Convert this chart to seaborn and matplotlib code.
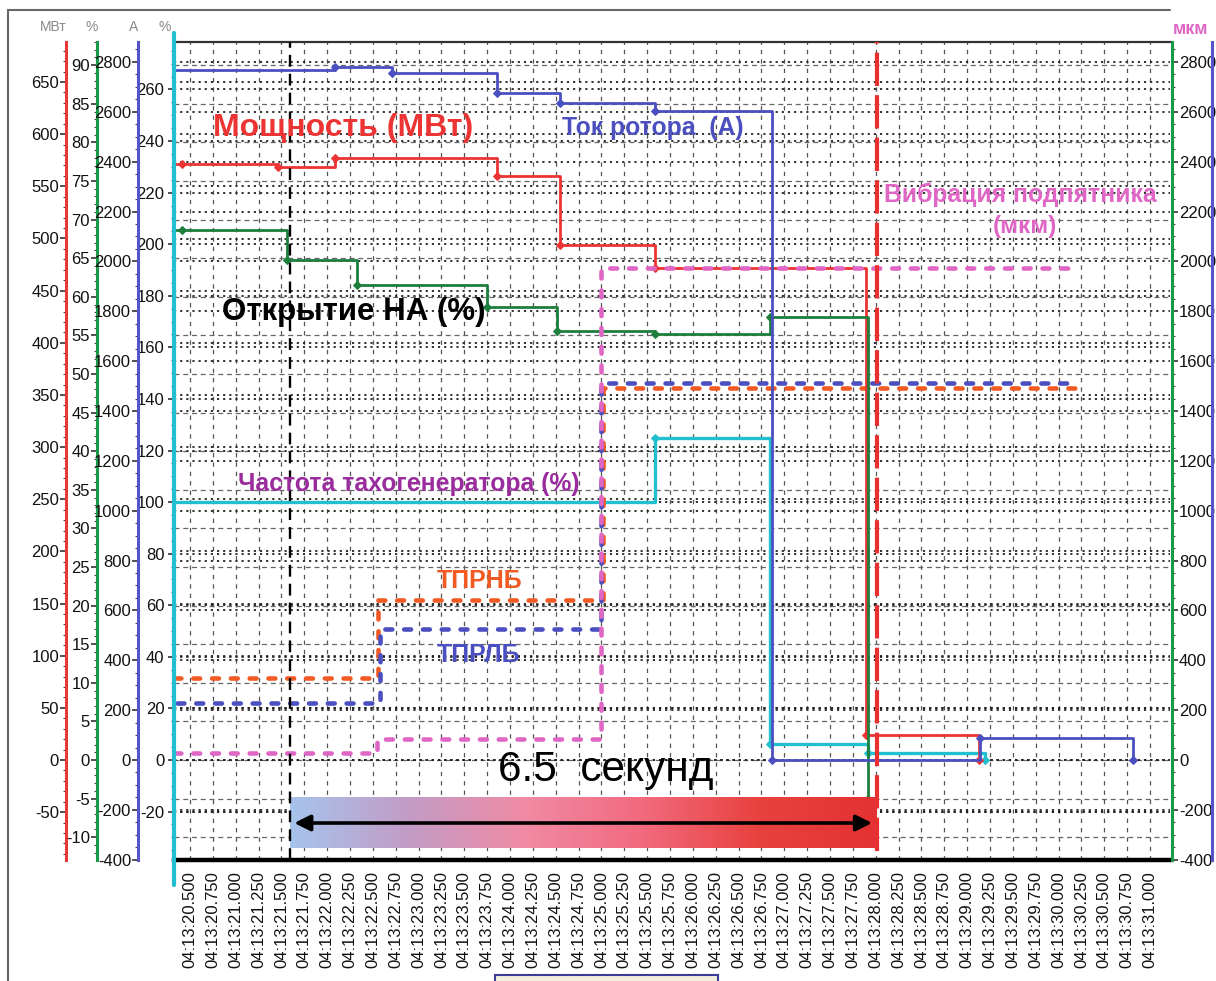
import numpy as np
import matplotlib
matplotlib.use("Agg")
import matplotlib.pyplot as plt
import seaborn as sns
from matplotlib.colors import LinearSegmentedColormap
from matplotlib.lines import Line2D
from matplotlib.patches import Rectangle
from matplotlib.ticker import FixedLocator, MultipleLocator

# ---------------------------------------------------------------- data
# time axis: seconds after 04:13:00
tick_seconds = np.arange(20.5, 31.0001, 0.25)
tick_labels = [f"04:13:{s:06.3f}" for s in tick_seconds]

# rotor current, A
rotor_t = [20.33, 22.09, 22.71, 23.86, 24.55, 25.59, 26.87, 29.14, 30.81]
rotor_a = [2767, 2779, 2755, 2674, 2634, 2602, 0, 88, 0]

# active power, MW
power_t = [20.33, 20.41, 21.46, 22.09, 23.86, 24.55, 25.59, 27.89, 29.13]
power_mw = [571, 571, 569, 577, 560, 494, 472, 24, 0]

# guide vane opening, %
vane_t = [20.33, 20.41, 21.56, 22.33, 23.75, 24.51, 25.59, 26.84, 27.92]
vane_pct = [68.6, 68.6, 64.8, 61.5, 58.7, 55.6, 55.2, 57.4, -5.0]

# tachogenerator frequency, %
tacho_t = [20.33, 25.59, 26.84, 27.92, 29.20]
tacho_pct = [100.0, 125.0, 6.2, 2.7, 0.0]

# thrust bearing temperature channels
tprnb_t = [20.33, 22.56, 25.02, 30.21]
tprnb_v = [31.8, 62.0, 144.2, 144.2]
tprlb_t = [20.36, 22.58, 25.00, 30.21]
tprlb_v = [22.1, 50.8, 146.2, 146.2]

# thrust bearing vibration, um
vib_t = [20.33, 22.545, 25.00, 30.13]
vib_um = [28, 84, 1973, 1973]

# moments of interest
t_start = 21.59
t_trip = 28.01

# axis tick values
mw_ticks = list(range(-50, 651, 50))
na_ticks = list(range(-10, 91, 5))
a_ticks = list(range(-400, 2801, 200))
pct_ticks = list(range(-20, 261, 20))
um_ticks = list(range(-400, 2801, 200))

# ---------------------------------------------------------------- style
sns.set_theme(style="white")
plt.rcParams["font.family"] = ["Liberation Sans", "DejaVu Sans"]
plt.rcParams["axes.unicode_minus"] = False

W, H = 1216, 981
LEFT, RIGHT, TOP, BOTTOM = 174, 1170, 42, 860
ZERO = 760  # pixel row of the zero level shared by every scale

PPU_PCT = 2.579   # px per unit, main percent scale
PPU_MW = 1.043
PPU_NA = 7.72
PPU_A = 0.2493

RED = "#ec3434"
BLUE = "#4b4fc0"
GREEN = "#1d7f3c"
CYAN = "#22bfcf"
ORANGE = "#f25a24"
PINK = "#e066c6"


def rect(x0, y0, x1, y1):
    return [x0 / W, 1 - y1 / H, (x1 - x0) / W, (y1 - y0) / H]


def limits(ppu):
    return ((ZERO - BOTTOM) / ppu, (ZERO - TOP) / ppu)


def fx(x):
    return x / W


def fy(y):
    return 1 - y / H


fig = plt.figure(figsize=(W / 100, H / 100), dpi=100)
fig.patch.set_facecolor("white")
ax = fig.add_axes(rect(LEFT, TOP, RIGHT, BOTTOM))
ax.grid(False)


def side_axis(x_px, spine_color, ppu, ticks, minor, side="left", labels=True):
    a = ax.twinx()
    a.grid(False)
    a.set_ylim(*limits(ppu))
    for s in a.spines.values():
        s.set_visible(False)
    sp = a.spines[side]
    sp.set_visible(True)
    sp.set_position(("axes", (x_px - LEFT) / (RIGHT - LEFT)))
    sp.set_color(spine_color)
    sp.set_linewidth(2.2)
    a.yaxis.set_ticks_position(side)
    a.yaxis.set_label_position(side)
    a.yaxis.set_major_locator(FixedLocator(ticks))
    a.yaxis.set_minor_locator(MultipleLocator(minor))
    a.tick_params(axis="y", which="major", direction="out", length=4, width=1.1,
                  color="#222", labelsize=12, labelcolor="#111", pad=1,
                  labelleft=(side == "left" and labels),
                  labelright=(side == "right" and labels))
    a.tick_params(axis="y", which="minor", direction="out", length=2, width=0.8, color="#444")
    if not labels:
        a.tick_params(axis="y", which="both", length=0)
    a.set_ylabel("")
    return a


ax_mw = side_axis(66, "#e83838", PPU_MW, mw_ticks, 10)
ax_na = side_axis(97, "#1a9a48", PPU_NA, na_ticks, 1)
ax_a = side_axis(138, "#5555c8", PPU_A, a_ticks, 50)
ax_um = side_axis(1172, "#1a9a48", PPU_A, um_ticks, 50, side="right")
ax_far = side_axis(1212, "#5555c8", PPU_A, um_ticks, 50, side="right", labels=False)

# main percent scale
ax.set_ylim(*limits(PPU_PCT))
ax.set_xlim(20.325, 31.219)
ax.yaxis.set_major_locator(FixedLocator(pct_ticks))
ax.yaxis.set_minor_locator(MultipleLocator(5))
ax.tick_params(axis="y", which="major", direction="out", length=4, width=1.1,
               color="#222", labelsize=12, labelcolor="#111", pad=3)
ax.tick_params(axis="y", which="minor", direction="out", length=2, width=0.8, color="#444")
ax.set_xticks(tick_seconds)
ax.set_xticklabels(tick_labels, rotation=90, fontsize=12, color="#111")
ax.tick_params(axis="x", length=0, pad=8)
for name in ("left", "right"):
    ax.spines[name].set_visible(False)
ax.spines["top"].set_color("#333")
ax.spines["top"].set_linewidth(1.6)
ax.spines["bottom"].set_color("black")
ax.spines["bottom"].set_linewidth(3.2)

# ---------------------------------------------------------------- grid
grid_dot = dict(color="#222", lw=1.3, ls=(0, (1.2, 2.2)), zorder=0.5)
for s in tick_seconds:
    ax.axvline(s, color="#555", lw=0.9, ls=(0, (3.5, 4)), zorder=0.4)
for v in pct_ticks:
    ax.axhline(v, **grid_dot)
for v in a_ticks:
    ax.axhline(v * PPU_A / PPU_PCT, **grid_dot)
for v in mw_ticks:
    ax.axhline(v * PPU_MW / PPU_PCT, **grid_dot)
for v in na_ticks:
    ax.axhline(v * PPU_NA / PPU_PCT, color="#666", lw=0.9, ls=(0, (4, 3)), zorder=0.4)


# ---------------------------------------------------------------- series
def step_line(axis, t, v, color, lw=2.0, dashed=False, markers=True):
    kw = dict(x=t, y=v, ax=axis, color=color, linewidth=lw, drawstyle="steps-post",
              sort=False, estimator=None, zorder=4)
    if dashed:
        kw.update(linestyle=(0, (1.5, 2.6)), dash_capstyle="round")
    if markers:
        kw.update(marker="D", markersize=4.5, markeredgecolor=color,
                  markerfacecolor=color, markevery=list(range(1, len(t))))
    sns.lineplot(**kw)
    axis.set_xlabel("")
    axis.set_ylabel("")


step_line(ax, tacho_t, tacho_pct, CYAN, lw=2.4)
step_line(ax, tprnb_t, tprnb_v, ORANGE, lw=3.3, dashed=True, markers=False)
step_line(ax, tprlb_t, tprlb_v, BLUE, lw=3.3, dashed=True, markers=False)
step_line(ax_um, vib_t, vib_um, PINK, lw=3.3, dashed=True, markers=False)
step_line(ax_mw, power_t, power_mw, RED, lw=2.0)
step_line(ax_na, vane_t, vane_pct, GREEN, lw=2.0)
step_line(ax_a, rotor_t, rotor_a, BLUE, lw=2.0)

for a in (ax_mw, ax_na, ax_a, ax_um, ax_far):
    a.set_xlim(20.325, 31.219)

# span bar with arrow, drawn on the top-most axes in main percent units
bar_top = (ZERO - 798) / PPU_PCT
bar_bot = (ZERO - 848) / PPU_PCT
span_cmap = LinearSegmentedColormap.from_list(
    "span", ["#a6c4ec", "#c29cc6", "#f08aa4", "#f26a7e", "#e8423e", "#e43232"])
ax_far.set_ylim(*limits(PPU_PCT))
ax_far.imshow(np.linspace(0, 1, 256).reshape(1, -1), extent=[t_start, t_trip, bar_bot, bar_top],
              aspect="auto", cmap=span_cmap, zorder=5)
ax_far.annotate("", xy=(t_trip - 0.05, (bar_top + bar_bot) / 2),
                xytext=(t_start + 0.05, (bar_top + bar_bot) / 2),
                arrowprops=dict(arrowstyle="<|-|>", color="black", lw=2.6,
                                mutation_scale=24, shrinkA=0, shrinkB=0), zorder=7)

# event markers
ax_far.plot([t_start, t_start], [limits(PPU_PCT)[0], limits(PPU_PCT)[1]],
            color="black", lw=1.7, ls=(0, (5, 3)), zorder=6)
ax_far.plot([t_trip, t_trip], [bar_bot - 1, limits(PPU_PCT)[1]],
            color="#e83030", lw=3.0, ls=(0, (8, 2.2)), zorder=6)
ax_far.set_xlim(20.325, 31.219)
ax_far.set_ylim(*limits(PPU_PCT))


# ---------------------------------------------------------------- text
def label(x, y, text, color, size, weight="bold", ha="left"):
    fig.text(fx(x), fy(y), text, color=color, fontsize=size, fontweight=weight,
             ha=ha, va="center", zorder=10)


label(213, 128, "Мощность (МВт)", RED, 23)
label(562, 128, "Ток ротора  (А)", BLUE, 17.8)
label(884, 195, "Вибрация подпятника", PINK, 17.8)
label(1025, 226, "(мкм)", PINK, 17.5, ha="center")
label(222, 312, "Открытие НА (%)", "black", 22.5)
label(238, 484, "Частота тахогенератора (%)", "#9a2c9e", 17.8)
label(437, 581, "ТПРНБ", ORANGE, 18)
label(437, 655, "ТПРЛБ", BLUE, 18)
label(498, 770, "6.5  секунд", "black", 30.5, weight="normal")

# unit captions above the scales
for x, u in ((53, "МВт"), (92, "%"), (134, "А"), (165, "%")):
    fig.text(fx(x), fy(27), u, color="#8a8a8a", fontsize=10, ha="center", va="center")
fig.text(fx(1190), fy(30), "мкм", color=PINK, fontsize=13, fontweight="bold", ha="center", va="center")

# frame, main scale spine and the bottom box
fig.add_artist(Line2D([fx(8), fx(8)], [fy(10), fy(981)], color="#666", lw=1.5))
fig.add_artist(Line2D([fx(8), fx(1170)], [fy(10), fy(10)], color="#666", lw=1.5))
fig.add_artist(Line2D([fx(174), fx(174)], [fy(33), fy(885)], color="#20c0d0", lw=3))
fig.add_artist(Rectangle((fx(495), fy(990)), (718 - 495) / W, 15 / H, transform=fig.transFigure,
                         facecolor="#f2f0dc", edgecolor="#3c3c98", lw=1.5))

fig.savefig("out.png", dpi=100)
